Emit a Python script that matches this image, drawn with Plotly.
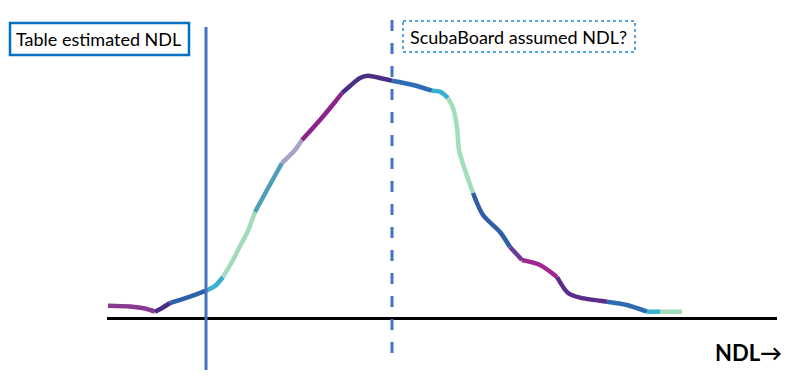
import plotly.graph_objects as go

# ---- data (x in NDL units, y = relative frequency, baseline = 0) ----
curve_x = [108, 130, 145, 155, 162, 170, 190, 206, 215, 223, 233, 240, 247, 255, 267,
           282, 295, 302, 320, 335, 342, 350, 360, 368, 380, 392, 413, 432, 440, 448,
           453, 457, 459, 465, 473, 483, 500, 510, 522, 540, 557, 568, 580, 607, 627,
           647, 660, 682]
curve_y = [12.8, 12.0, 10.0, 6.8, 10.5, 15.5, 21.8, 27.8, 32.5, 41.5, 58.5, 72.5, 85.5,
           106.5, 128.5, 155.5, 168.5, 178.5, 198.5, 216.5, 225.5, 232.5, 240.5, 242.8,
           240.5, 237.8, 233.5, 227.8, 226.8, 220.5, 210.5, 191.5, 168.5, 148.5, 125.5,
           103.5, 86.5, 71.5, 58.5, 53.5, 41.5, 25.5, 20.8, 16.8, 13.5, 6.8, 6.8, 6.8]

# colour segments along the curve: (start index, end index)
segments = [(0, 3), (3, 5), (5, 7), (7, 9), (9, 13), (13, 15), (15, 17), (17, 20),
            (20, 25), (25, 27), (27, 29), (29, 34), (34, 37), (37, 38), (38, 40),
            (40, 43), (43, 45), (45, 46), (46, 47)]
segment_colors = ["#8A3A8E", "#4A2C85", "#2D62A8", "#3AB0CC", "#A3DABA", "#4E9FB5",
                  "#A8A2C8", "#8C2487", "#4A2F85", "#2E6DB2", "#37B2CE", "#A2DDBB",
                  "#2F5EA5", "#6B3C97", "#A02690", "#5B2D8B", "#2E6CB1", "#37B2CE",
                  "#A2DDBB"]

table_ndl = 206
scubaboard_ndl = 392
axis_start, axis_end = 107, 777

label_table = "Table estimated NDL"
label_scuba = "ScubaBoard assumed NDL?"
label_axis = "NDL→"

TOP = 318.5  # y value at the top edge of the page

fig = go.Figure()

for (i0, i1), col in zip(segments, segment_colors):
    fig.add_trace(go.Scatter(
        x=curve_x[i0:i1 + 1], y=curve_y[i0:i1 + 1], mode="lines",
        line=dict(color=col, width=4.5, shape="spline", smoothing=0.8),
        hoverinfo="skip", showlegend=False))

shapes = [
    dict(type="line", xref="x", yref="y", x0=axis_start, x1=axis_end, y0=0, y1=0,
         line=dict(color="black", width=3)),
    dict(type="line", xref="x", yref="y", x0=table_ndl, x1=table_ndl, y0=TOP - 27, y1=TOP - 370,
         line=dict(color="#4472C4", width=3)),
    dict(type="line", xref="x", yref="y", x0=scubaboard_ndl, x1=scubaboard_ndl,
         y0=TOP - 20, y1=TOP - 363, line=dict(color="#4472C4", width=3, dash="11px,12px")),
    dict(type="rect", xref="x", yref="y", x0=10, x1=189, y0=TOP - 23, y1=TOP - 55,
         line=dict(color="#0070C0", width=2.5), fillcolor="white"),
    dict(type="rect", xref="x", yref="y", x0=403, x1=635, y0=TOP - 21, y1=TOP - 52,
         line=dict(color="#1F87D6", width=1.5, dash="dot"), fillcolor="white"),
]

annotations = [
    dict(x=98, y=TOP - 39, xref="x", yref="y", text=label_table, showarrow=False,
         font=dict(family="Lato, Open Sans, sans-serif", size=18, color="black")),
    dict(x=518, y=TOP - 37, xref="x", yref="y", text=label_scuba, showarrow=False,
         font=dict(family="Lato, Open Sans, sans-serif", size=18, color="black")),
    dict(x=748, y=TOP - 352, xref="x", yref="y", text="<b>" + label_axis + "</b>",
         showarrow=False,
         font=dict(family="Lato, Open Sans, sans-serif", size=22, color="black")),
]

# the page body adds an 8px offset; compensate in the axis ranges
OFF = 8
fig.update_layout(
    width=800, height=388,
    margin=dict(l=0, r=0, t=0, b=0),
    paper_bgcolor="white", plot_bgcolor="white",
    xaxis=dict(range=[OFF, 800 + OFF], visible=False, fixedrange=True),
    yaxis=dict(range=[TOP - OFF - 388, TOP - OFF], visible=False, fixedrange=True),
    shapes=shapes, annotations=annotations,
)

fig.write_html("out.html")
